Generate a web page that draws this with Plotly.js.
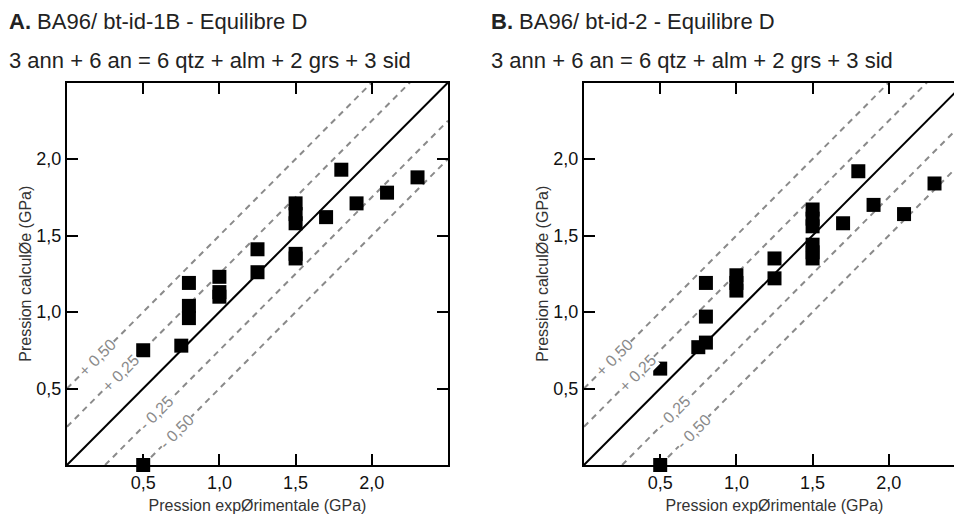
<!DOCTYPE html>
<html>
<head>
<meta charset="utf-8">
<script src="https://cdn.plot.ly/plotly-3.0.1.min.js"></script>
<style>
html, body { margin: 0; padding: 0; overflow: hidden; background: #fff; }
#chart { width: 975px; height: 518px; }
</style>
</head>
<body>
<div id="chart"></div>
<script>
// ---- data ----
const panelLetters = ["A.", "B."];
const panelTitles = [" BA96/ bt-id-1B - Equilibre D", " BA96/ bt-id-2 - Equilibre D"];
const reaction = "3 ann + 6 an = 6 qtz + alm + 2 grs + 3 sid";

const A_x = [0.5, 0.5, 0.75, 0.8, 0.8, 0.8, 1.0, 1.0, 1.0, 1.25, 1.25, 1.5, 1.5, 1.5, 1.5, 1.5, 1.7, 1.8, 1.9, 2.1, 2.3];
const A_y = [0.0, 0.75, 0.78, 1.19, 1.04, 0.96, 1.23, 1.13, 1.10, 1.41, 1.26, 1.71, 1.64, 1.58, 1.38, 1.35, 1.62, 1.93, 1.71, 1.78, 1.88];

const B_x = [0.5, 0.5, 0.75, 0.8, 0.8, 0.8, 1.0, 1.0, 1.0, 1.25, 1.25, 1.5, 1.5, 1.5, 1.5, 1.5, 1.5, 1.7, 1.8, 1.9, 2.1, 2.3];
const B_y = [0.0, 0.63, 0.77, 0.80, 0.97, 1.19, 1.24, 1.19, 1.14, 1.35, 1.22, 1.67, 1.61, 1.56, 1.44, 1.39, 1.35, 1.58, 1.92, 1.70, 1.64, 1.84];

const tickVals = [0.5, 1.0, 1.5, 2.0];
const tickText = ["0,5", "1,0", "1,5", "2,0"];
const offsets = [0.5, 0.25, -0.25, -0.5];
const offsetLabels = ["+ 0,50", "+ 0,25", "- 0,25", "- 0,50"];
const labelX = [0.2, 0.35, 0.59, 0.72];
const axisRange = [0, 2.5];
const xTitle = "Pression expØrimentale (GPa)";
const yTitle = "Pression calculØe (GPa)";

// ---- layout helpers ----
const W = 975, H = 518;
const FONT = "Liberation Sans, Arial, Helvetica, sans-serif";
const px = v => v / W;
const py = v => 1 - v / H;
const xDomains = [[px(67), px(448)], [px(584), px(965)]];
const yDomain = [py(465), py(82.5)];
const titleX = [7, 489];

const traces = [];
const annotations = [];
const datasets = [[A_x, A_y], [B_x, B_y]];

datasets.forEach((d, i) => {
  const xa = i === 0 ? "x" : "x2";
  const ya = i === 0 ? "y" : "y2";
  offsets.forEach((o, k) => {
    const x0 = Math.max(axisRange[0], axisRange[0] - o);
    const x1 = Math.min(axisRange[1], axisRange[1] - o);
    traces.push({
      x: [x0, x1], y: [x0 + o, x1 + o], xaxis: xa, yaxis: ya,
      mode: "lines", line: {color: "#8a8a8a", width: 2, dash: "6px,5px"},
      hoverinfo: "skip", showlegend: false
    });
    annotations.push({
      xref: xa, yref: ya, x: labelX[k], y: labelX[k] + o,
      text: offsetLabels[k], showarrow: false, textangle: -45,
      font: {family: FONT, size: 16, color: "#8a8a8a"},
      bgcolor: "#ffffff", borderpad: 0
    });
  });
  traces.push({
    x: axisRange, y: axisRange, xaxis: xa, yaxis: ya,
    mode: "lines", line: {color: "#000", width: 2},
    hoverinfo: "skip", showlegend: false
  });
  traces.push({
    x: d[0], y: d[1], xaxis: xa, yaxis: ya,
    mode: "markers", cliponaxis: false,
    marker: {symbol: "square", size: 14, color: "#000"},
    showlegend: false
  });
  annotations.push({
    xref: "paper", yref: "paper", x: px(titleX[i]), y: py(21),
    xanchor: "left", yanchor: "middle", showarrow: false,
    text: "<b>" + panelLetters[i] + "</b>" + panelTitles[i],
    font: {family: FONT, size: 22, color: "#222"}
  });
  annotations.push({
    xref: "paper", yref: "paper", x: px(titleX[i]), y: py(61),
    xanchor: "left", yanchor: "middle", showarrow: false,
    text: reaction,
    font: {family: FONT, size: 22, color: "#222"}
  });
});

function xaxisDef(dom, anchor) {
  return {
    domain: dom, anchor: anchor, range: axisRange,
    showgrid: false, zeroline: false,
    showline: true, linecolor: "#000", linewidth: 2, mirror: "ticks",
    ticks: "inside", ticklen: 11, tickwidth: 2, tickcolor: "#000",
    tickvals: tickVals, ticktext: tickText,
    tickfont: {family: FONT, size: 18, color: "#111"},
    title: {text: xTitle, font: {family: FONT, size: 16, color: "#333"}, standoff: 8}
  };
}
function yaxisDef(anchor) {
  return {
    domain: yDomain, anchor: anchor, range: axisRange,
    showgrid: false, zeroline: false,
    showline: true, linecolor: "#000", linewidth: 2, mirror: "ticks",
    ticks: "inside", ticklen: 11, tickwidth: 2, tickcolor: "#000",
    tickvals: tickVals, ticktext: tickText,
    tickfont: {family: FONT, size: 18, color: "#111"},
    title: {text: yTitle, font: {family: FONT, size: 16, color: "#333"}, standoff: 1}
  };
}

const layout = {
  width: W, height: H,
  margin: {l: 0, r: 0, t: 0, b: 0},
  paper_bgcolor: "#fff", plot_bgcolor: "#fff",
  showlegend: false,
  xaxis: xaxisDef(xDomains[0], "y"),
  yaxis: yaxisDef("x"),
  xaxis2: xaxisDef(xDomains[1], "y2"),
  yaxis2: yaxisDef("x2"),
  annotations: annotations
};

Plotly.newPlot("chart", traces, layout, {displayModeBar: false, staticPlot: true});
</script>
</body>
</html>
